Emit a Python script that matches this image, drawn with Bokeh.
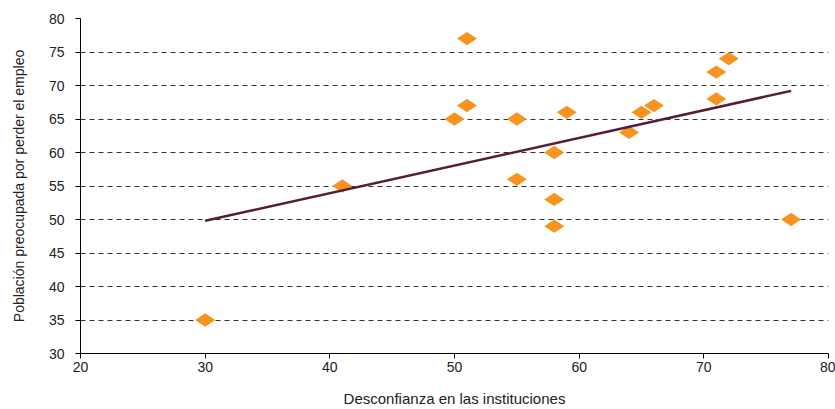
import math
from bokeh.plotting import figure
from bokeh.models import ColumnDataSource, Range1d, FixedTicker
from bokeh.embed import file_html
from bokeh.resources import INLINE

# Data
desconfianza = [30, 41, 50, 51, 51, 55, 55, 58, 58, 58, 59, 64, 65, 66, 71, 71, 72, 77]
preocupada   = [35, 55, 65, 77, 67, 65, 56, 60, 53, 49, 66, 63, 66, 67, 72, 68, 74, 50]
trend_x = [30, 77]
trend_y = [49.8, 69.2]
x_ticks = [20, 30, 40, 50, 60, 70, 80]
y_ticks = [30, 35, 40, 45, 50, 55, 60, 65, 70, 75, 80]

FONT = "Liberation Sans"

p = figure(width=835, height=409, output_backend="svg", toolbar_location=None,
           x_range=Range1d(20, 80), y_range=Range1d(30, 80),
           min_border_left=80, min_border_right=7, min_border_top=18, min_border_bottom=55)
p.outline_line_color = None
p.background_fill_color = "white"
p.border_fill_color = "white"

src = ColumnDataSource(dict(x=desconfianza, y=preocupada))
p.scatter("x", "y", source=src, marker="diamond", size=20, angle=math.pi / 2,
          fill_color="#F7931E", line_color="#F7931E", line_width=0)
p.line(trend_x, trend_y, line_color="#551C3B", line_width=2.5)

p.xgrid.grid_line_color = None
p.ygrid.grid_line_color = "#333333"
p.ygrid.grid_line_dash = "5 4"
p.ygrid.grid_line_width = 1

for ax in (p.xaxis[0], p.yaxis[0]):
    ax.axis_line_color = "black"
    ax.axis_line_width = 1
    ax.major_tick_line_color = "black"
    ax.major_tick_in = 0
    ax.major_tick_out = 5
    ax.minor_tick_line_color = None
    ax.major_label_text_font = FONT
    ax.major_label_text_font_size = "14px"
    ax.major_label_text_color = "#222222"
    ax.axis_label_text_font = FONT
    ax.axis_label_text_font_style = "normal"
    ax.axis_label_text_color = "#222222"

p.xaxis.axis_label_text_font_size = "15px"
p.yaxis.axis_label_text_font_size = "14px"
p.xaxis.ticker = FixedTicker(ticks=x_ticks)
p.yaxis.ticker = FixedTicker(ticks=y_ticks)
p.xaxis.axis_label = "Desconfianza en las instituciones"
p.yaxis.axis_label = "Población preocupada por perder el empleo"
p.xaxis.major_label_standoff = 3
p.xaxis.axis_label_standoff = 15
p.yaxis.major_label_standoff = 11
p.yaxis.axis_label_standoff = 19

open("out.html", "w").write(file_html(p, INLINE))
